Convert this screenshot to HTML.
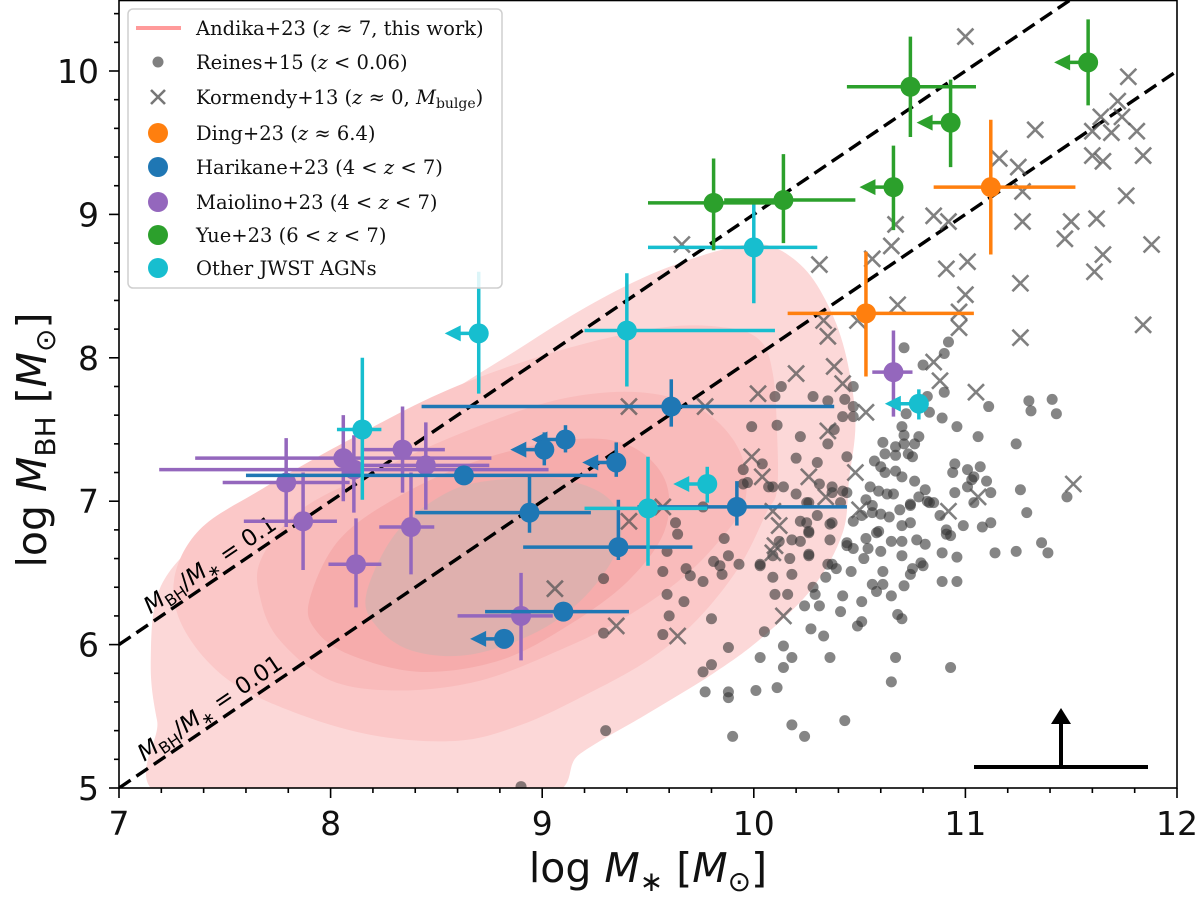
<!DOCTYPE html>
<html><head><meta charset="utf-8"><style>
html,body{margin:0;padding:0;background:#fff;}
svg{display:block;}
text{font-family:"DejaVu Sans","Liberation Sans",sans-serif;}
.lg{font-family:"DejaVu Serif","Liberation Serif",serif;font-size:19.5px;fill:#111;}
</style></head><body>
<svg id="chart" xmlns="http://www.w3.org/2000/svg" width="1200" height="897" viewBox="0 0 1200 897">
<defs><clipPath id="clip"><rect x="119" y="0" width="1058" height="788"/></clipPath></defs>
<rect width="1200" height="897" fill="#fff"/>
<g id="contours" clip-path="url(#clip)"></g>
<g id="lines" clip-path="url(#clip)"></g>
<g id="reines" clip-path="url(#clip)"></g>
<g id="kormendy" clip-path="url(#clip)"></g>
<g id="series" clip-path="url(#clip)"></g>
<g id="axes"></g>
<g id="legend"></g>
</svg>
<script>
// ---- data ----
const xTicks=[7,8,9,10,11,12];
const yTicks=[5,6,7,8,9,10];
const ratioLines=[-1,-2];
const ratioLabels=["0.1","0.01"];
const reinesX=[10.71,10.92,10.90,10.80,10.82,10.90,10.13,10.10,10.28,10.35,10.43,10.47,10.47,10.42,10.47,10.38,10.72,10.83,10.89,10.96,10.70,10.71,10.78,11.06,11.24,11.30,11.31,11.11,9.99,10.11,10.22,10.35,10.61,10.67,10.71,10.76,10.62,10.67,10.73,10.75,10.20,10.30,10.44,10.57,10.60,10.62,10.67,10.70,10.76,10.81,10.95,10.94,11.01,11.07,11.04,11.10,10.95,11.01,11.12,11.04,11.26,11.48,11.29,9.95,10.04,9.97,10.14,10.09,10.31,10.20,10.25,10.37,10.42,10.41,10.53,10.59,10.63,10.66,10.74,10.78,10.83,10.88,10.69,10.56,10.60,10.64,10.51,10.22,10.26,10.36,10.18,10.36,10.70,10.74,10.59,10.65,10.70,10.77,10.81,10.91,10.93,10.99,11.08,11.12,10.89,10.96,11.14,11.24,10.44,10.47,10.54,10.60,10.52,10.70,10.79,10.26,10.17,10.03,10.37,
9.29,9.59,9.64,9.63,9.57,9.59,9.67,9.68,9.70,9.76,9.81,9.84,9.85,9.88,9.86,9.93,10.03,10.09,10.18,10.09,10.10,10.16,10.26,10.37,9.60,9.80,9.57,9.29,9.88,10.05,10.14,10.18,10.03,10.14,9.80,9.76,9.77,9.88,9.88,10.01,10.11,10.18,10.24,9.90,9.30,10.43,10.65,10.67,10.93,10.36,10.27,10.33,10.24,10.28,10.29,10.31,10.34,10.39,10.35,10.42,10.41,10.46,10.44,10.58,10.53,10.75,10.74,10.80,10.61,10.56,10.61,10.58,10.71,10.65,10.51,10.68,10.70,10.51,10.49,10.89,10.96,10.91,10.47,10.56,10.74,10.26,10.30,10.25,10.37,10.44,10.55,10.82,10.85,11.03,10.07,9.95,9.76,10.22,10.26,10.12,8.90,11.41,11.43,11.36,11.39];
const reinesY=[8.07,8.11,8.03,7.95,7.73,7.76,7.80,7.73,7.73,7.70,7.71,7.80,7.66,7.59,7.59,7.50,7.61,7.62,7.58,7.52,7.52,7.46,7.45,7.45,7.40,7.70,7.63,7.66,7.52,7.53,7.45,7.40,7.41,7.38,7.40,7.40,7.33,7.32,7.33,7.31,7.30,7.27,7.31,7.28,7.24,7.20,7.21,7.17,7.14,7.08,7.26,7.20,7.22,7.24,7.17,7.14,7.06,7.10,7.06,6.99,7.08,7.03,6.92,7.22,7.26,7.13,7.10,7.10,7.12,7.05,6.99,7.06,7.07,6.99,7.01,7.07,7.05,7.05,6.97,7.03,6.99,6.90,6.94,6.97,6.91,6.89,6.90,6.86,6.79,6.84,6.73,6.73,6.83,6.85,6.79,6.72,6.72,6.73,6.70,6.80,6.76,6.83,6.82,6.85,6.64,6.61,6.64,6.65,6.71,6.67,6.67,6.65,6.60,6.62,6.57,6.63,6.60,6.56,6.56,
6.46,6.65,6.77,6.85,6.51,6.35,6.30,6.53,6.48,6.44,6.58,6.55,6.49,6.62,6.74,6.56,6.55,6.62,6.49,6.47,6.35,6.35,6.62,6.85,6.20,6.18,6.07,6.08,5.98,6.09,5.99,5.91,5.91,5.84,5.86,5.81,5.67,5.67,5.63,5.68,5.70,5.44,5.36,5.36,5.40,5.47,5.74,5.91,5.84,5.91,6.11,6.06,6.27,6.40,6.35,6.27,6.47,6.53,6.56,6.34,6.23,6.51,6.69,6.78,6.74,6.53,6.49,6.55,6.51,6.42,6.42,6.37,6.41,6.34,6.30,6.21,6.18,6.16,6.13,6.44,6.44,6.77,6.86,6.92,6.98,6.99,6.90,6.85,7.10,7.06,7.10,7.00,6.99,7.15,7.10,7.12,6.96,6.72,6.78,6.72,5.01,7.71,7.61,6.71,6.64];
const kormX=[11.0,11.77,11.72,11.64,11.74,11.60,11.69,11.81,11.33,11.60,11.65,11.84,11.16,11.25,11.27,11.76,10.85,10.92,11.27,11.50,11.62,11.47,11.88,11.65,11.61,10.67,10.65,10.56,10.31,10.91,11.01,11.26,11.00,10.68,10.97,10.97,10.33,10.35,10.49,11.26,11.84,9.66,10.20,10.38,10.42,10.02,10.53,10.35,10.85,10.88,11.05,9.99,10.04,10.26,10.48,10.34,10.09,10.50,10.92,11.06,11.51,10.12,10.10,10.09,9.41,9.57,10.14,9.35,9.64,9.06,9.41,9.77];
const kormY=[10.24,9.96,9.79,9.68,9.68,9.58,9.57,9.58,9.59,9.41,9.37,9.41,9.39,9.33,9.16,9.13,8.99,8.95,8.95,8.95,8.97,8.83,8.79,8.72,8.60,8.93,8.78,8.69,8.65,8.62,8.67,8.52,8.44,8.37,8.32,8.21,8.26,8.15,8.26,8.14,8.23,8.79,7.89,7.94,7.82,7.75,7.62,7.49,7.97,7.84,7.76,7.31,7.17,7.17,7.20,7.03,6.93,6.94,6.93,7.03,7.12,6.83,6.69,6.64,6.86,6.96,6.20,6.13,6.06,6.39,7.66,7.66];
// contour levels (data coords: logM*, logMBH pairs)
const contour1=[[7.28,4.9],[7.18,5.47],[7.15,5.89],[7.19,6.38],[7.38,6.73],[7.67,7.04],[8.04,7.36],[8.42,7.64],[8.80,7.98],[9.18,8.33],[9.51,8.58],[9.84,8.75],[10.05,8.79],[10.22,8.65],[10.34,8.40],[10.43,8.05],[10.48,7.57],[10.45,7.15],[10.42,6.78],[10.28,6.40],[10.04,6.05],[9.81,5.80],[9.50,5.52],[9.18,5.24],[8.90,4.9]];
const contour2=[[9.18,5.63],[8.90,5.44],[8.61,5.33],[8.23,5.36],[7.86,5.51],[7.52,5.75],[7.31,6.10],[7.26,6.45],[7.38,6.80],[7.67,7.08],[8.09,7.43],[8.56,7.78],[9.08,8.05],[9.56,8.21],[9.87,8.21],[10.03,8.12],[10.09,7.89],[10.11,7.48],[10.11,7.08],[10.06,6.92],[9.93,6.54],[9.73,6.17],[9.50,5.89]];
const contour3=[[7.67,6.59],[7.86,6.94],[8.23,7.22],[8.66,7.50],[9.08,7.71],[9.46,7.76],[9.75,7.64],[9.93,7.36],[9.96,7.01],[9.84,6.73],[9.65,6.45],[9.37,6.17],[9.08,5.96],[8.71,5.75],[8.33,5.68],[8.00,5.75],[7.76,6.03],[7.67,6.31]];
const contour4=[[7.90,6.31],[8.04,6.73],[8.33,7.04],[8.71,7.29],[9.13,7.43],[9.41,7.39],[9.58,7.15],[9.58,6.80],[9.41,6.45],[9.13,6.14],[8.80,5.89],[8.42,5.81],[8.09,5.93],[7.93,6.10]];
const contour5=[[8.17,6.36],[8.31,6.78],[8.55,7.06],[8.79,7.15],[9.10,7.15],[9.32,7.01],[9.37,6.73],[9.23,6.38],[8.99,6.10],[8.66,5.93],[8.38,5.96],[8.21,6.14]];
// series: x, y, xlo, xhi, ylo, yhi, upper-limit flag
const yueX=[11.58,10.74,10.93,10.66,10.14,9.81];
const yueY=[10.06,9.89,9.64,9.19,9.10,9.08];
const yueXlo=[null,10.44,null,null,9.86,9.50];
const yueXhi=[null,11.05,null,null,10.48,10.10];
const yueYlo=[9.76,9.54,9.33,8.89,8.80,8.75];
const yueYhi=[10.36,10.24,9.94,9.48,9.42,9.39];
const yueLim=[1,0,1,1,0,0];
const dingX=[11.12,10.53];
const dingY=[9.19,8.31];
const dingXlo=[10.85,10.16];
const dingXhi=[11.52,11.04];
const dingYlo=[8.72,7.87];
const dingYhi=[9.66,8.74];
const dingLim=[0,0];
const hariX=[9.61,9.11,9.01,9.35,8.63,8.94,9.10,8.82,9.36,9.92];
const hariY=[7.66,7.43,7.36,7.27,7.18,6.92,6.23,6.04,6.68,6.96];
const hariXlo=[8.43,null,null,null,7.60,8.40,8.73,null,8.91,9.45];
const hariXhi=[10.38,null,null,null,9.26,9.23,9.41,null,9.71,10.44];
const hariYlo=[7.52,7.34,7.25,7.17,null,6.78,null,null,6.59,6.83];
const hariYhi=[7.85,7.53,7.48,7.41,null,7.17,null,null,7.01,7.14];
const hariLim=[0,1,1,1,0,0,0,1,0,0];
const maioX=[10.66,8.06,8.11,8.34,8.45,7.79,7.87,8.38,8.12,8.90];
const maioY=[7.90,7.30,7.22,7.36,7.25,7.13,6.86,6.82,6.56,6.20];
const maioXlo=[10.56,7.36,7.19,8.15,8.14,7.49,7.59,8.23,7.99,8.60];
const maioXhi=[10.75,8.76,9.03,8.54,8.75,8.09,8.03,8.49,8.24,9.05];
const maioYlo=[7.59,7.00,6.92,7.06,6.94,6.82,6.52,6.49,6.26,5.89];
const maioYhi=[8.19,7.60,7.46,7.66,7.55,7.44,7.20,7.20,6.88,6.50];
const maioLim=[0,0,0,0,0,0,0,0,0,0];
const othX=[10.00,9.40,8.70,8.15,9.78,9.50,10.78];
const othY=[8.77,8.19,8.17,7.50,7.12,6.95,7.68];
const othXlo=[9.50,9.20,null,8.03,null,9.20,null];
const othXhi=[10.30,10.10,null,8.24,null,9.78,null];
const othYlo=[8.38,7.80,7.75,7.01,6.99,6.55,7.57];
const othYhi=[9.11,8.59,8.60,8.00,7.24,7.31,7.78];
const othLim=[0,0,1,0,1,0,1];

// ---- scales ----
const X0=119,X1=1177,Y0=788;
const PX=211.6,PY=143.4;
function sx(v){return X0+(v-7)*PX;}
function sy(v){return Y0-(v-5)*PY;}
const NS="http://www.w3.org/2000/svg";
function mk(tag,attrs,parent){const e=document.createElementNS(NS,tag);for(const k in attrs)e.setAttribute(k,attrs[k]);if(parent)parent.appendChild(e);return e;}

// contours
function smoothClosed(pts){
  const p=pts.map(q=>[sx(q[0]),sy(q[1])]);const n=p.length;let d=`M${p[0][0]},${p[0][1]}`;
  for(let i=0;i<n;i++){const p0=p[(i-1+n)%n],p1=p[i],p2=p[(i+1)%n],p3=p[(i+2)%n];
    const c1=[p1[0]+(p2[0]-p0[0])/6,p1[1]+(p2[1]-p0[1])/6],c2=[p2[0]-(p3[0]-p1[0])/6,p2[1]-(p3[1]-p1[1])/6];
    d+=`C${c1[0]},${c1[1]} ${c2[0]},${c2[1]} ${p2[0]},${p2[1]}`;}
  return d+'Z';}
const cg=document.getElementById('contours');
const contours=[contour1,contour2,contour3,contour4,contour5];
const cfill=['#fcd8d8','#fbc8c8','#f9bbbb','#f6acac','#dfb0ae'];
contours.forEach((c,i)=>{const p=mk('path',{d:smoothClosed(c),fill:cfill[i]},cg);

});

// ratio lines
const lg=document.getElementById('lines');
ratioLines.forEach((o,i)=>{const l=mk('line',{x1:sx(7),y1:sy(7+o),x2:sx(12),y2:sy(12+o),stroke:'#000','stroke-width':3.4,'stroke-dasharray':'14,7'},lg);


const ang=-Math.atan(PY/PX)*180/Math.PI;const lx=sx(7.45),ly=sy(7.45+o)-9;
const t=mk('text',{x:lx,y:ly,'font-size':23,'text-anchor':'middle',transform:`rotate(${ang} ${lx} ${ly})`},lg);


t.innerHTML=`<tspan font-style="italic">M</tspan><tspan font-size="16" dy="5">BH</tspan><tspan dy="-5">/</tspan><tspan font-style="italic">M</tspan><tspan font-size="16" dy="5">∗</tspan><tspan dy="-5"> = ${ratioLabels[i]}</tspan>`;});

// reines
const rg=document.getElementById('reines');
reinesX.forEach((x,i)=>{const c=mk('circle',{cx:sx(x),cy:sy(reinesY[i]),r:5.5,fill:'#333','fill-opacity':0.6},rg);

});
// kormendy
const kg=document.getElementById('kormendy');
kormX.forEach((x,i)=>{const cx=sx(x),cy=sy(kormY[i]),s=8;
const p=mk('path',{d:`M${cx-s},${cy-s}L${cx+s},${cy+s}M${cx-s},${cy+s}L${cx+s},${cy-s}`,stroke:'#555','stroke-opacity':0.75,'stroke-width':2.6},kg);

});

// colored series
const sg=document.getElementById('series');
function drawSeries(name,col,X,Y,XL,XH,YL,YH,L){
  const g=mk('g',{},sg);
  
  
  X.forEach((x,i)=>{const cx=sx(x),cy=sy(Y[i]);
    if(XL[i]!=null)mk('line',{x1:sx(XL[i]),y1:cy,x2:sx(XH[i]),y2:cy,stroke:col,'stroke-width':3.5},g);
    if(YL[i]!=null)mk('line',{x1:cx,y1:sy(YL[i]),x2:cx,y2:sy(YH[i]),stroke:col,'stroke-width':3.5},g);
    if(L[i]){mk('line',{x1:cx,y1:cy,x2:cx-20,y2:cy,stroke:col,'stroke-width':3.5},g);
      mk('path',{d:`M${cx-34},${cy}L${cx-18},${cy-8}L${cx-18},${cy+8}Z`,fill:col},g);}
    const c=mk('circle',{cx:cx,cy:cy,r:10,fill:col},g);
    
    });}
drawSeries('maiolino','#9467bd',maioX,maioY,maioXlo,maioXhi,maioYlo,maioYhi,maioLim);
drawSeries('harikane','#1f77b4',hariX,hariY,hariXlo,hariXhi,hariYlo,hariYhi,hariLim);
drawSeries('other-jwst','#17becf',othX,othY,othXlo,othXhi,othYlo,othYhi,othLim);
drawSeries('ding','#ff7f0e',dingX,dingY,dingXlo,dingXhi,dingYlo,dingYhi,dingLim);
drawSeries('yue','#2ca02c',yueX,yueY,yueXlo,yueXhi,yueYlo,yueYhi,yueLim);

// typical error bar
const eb=mk('g',{},sg);


mk('line',{x1:974,y1:767,x2:1148,y2:767,stroke:'#000','stroke-width':4},eb);
mk('line',{x1:1061,y1:767,x2:1061,y2:722,stroke:'#000','stroke-width':4},eb);
mk('path',{d:'M1061,708L1051,724L1071,724Z',fill:'#000'},eb);

// axes
const ag=document.getElementById('axes');
const fr=mk('rect',{x:X0,y:0.5,width:X1-X0,height:Y0-0.5,fill:'none',stroke:'#000','stroke-width':1.6},ag);


for(let v=7;v<=12.001;v+=0.2){const major=Math.abs(v-Math.round(v))<1e-6;const x=sx(v);
  mk('line',{x1:x,y1:Y0,x2:x,y2:Y0+(major?10:5),stroke:'#000','stroke-width':1.6},ag);}
for(let v=5;v<=10.41;v+=0.2){const major=Math.abs(v-Math.round(v))<1e-6;const y=sy(v);
  mk('line',{x1:X0,y1:y,x2:X0-(major?10:5),y2:y,stroke:'#000','stroke-width':1.6},ag);}
xTicks.forEach(v=>{const t=mk('text',{x:sx(v),y:835,'font-size':33,'text-anchor':'middle',fill:'#111'},ag);t.textContent=v;

});
yTicks.forEach(v=>{const t=mk('text',{x:99,y:sy(v)+12,'font-size':33,'text-anchor':'end',fill:'#111'},ag);t.textContent=v;

});
const xt=mk('text',{x:648,y:882,'font-size':41,'text-anchor':'middle',fill:'#111'},ag);


xt.innerHTML='log<tspan font-style="italic"> M</tspan><tspan font-size="28" dy="9">∗</tspan><tspan dy="-9">  [</tspan><tspan font-style="italic">M</tspan><tspan font-size="28" dy="9">⊙</tspan><tspan dy="-9">]</tspan>';
const yt=mk('text',{x:46,y:440,'font-size':41,'text-anchor':'middle',fill:'#111',transform:'rotate(-90 46 440)'},ag);


yt.innerHTML='log<tspan font-style="italic"> M</tspan><tspan font-size="28" dy="9">BH</tspan><tspan dy="-9"> [</tspan><tspan font-style="italic">M</tspan><tspan font-size="28" dy="9">⊙</tspan><tspan dy="-9">]</tspan>';

// legend
const leg=document.getElementById('legend');
mk('rect',{x:128,y:9,width:374,height:279,rx:5,fill:'#fff','fill-opacity':0.85,stroke:'#cfcfcf','stroke-width':1.5},leg);
const entries=[
 ['line','#ff9a9a','Andika+23 (<tspan font-style="italic">z</tspan> ≈ 7, this work)','legend-andika'],
 ['dot','#808080','Reines+15 (<tspan font-style="italic">z</tspan> &lt; 0.06)','legend-reines'],
 ['cross','#777','Kormendy+13 (<tspan font-style="italic">z</tspan> ≈ 0, <tspan font-style="italic">M</tspan><tspan font-size="14" dy="4">bulge</tspan><tspan dy="-4">)</tspan>','legend-kormendy'],
 ['big','#ff7f0e','Ding+23 (<tspan font-style="italic">z</tspan> ≈ 6.4)','legend-ding'],
 ['big','#1f77b4','Harikane+23 (4 &lt; <tspan font-style="italic">z</tspan> &lt; 7)','legend-harikane'],
 ['big','#9467bd','Maiolino+23 (4 &lt; <tspan font-style="italic">z</tspan> &lt; 7)','legend-maiolino'],
 ['big','#2ca02c','Yue+23 (6 &lt; <tspan font-style="italic">z</tspan> &lt; 7)','legend-yue'],
 ['big','#17becf','Other JWST AGNs','legend-other-jwst']];
const ly0=[28,62,97,133,167,202,235,268];
entries.forEach((e,i)=>{const g=mk('g',{},leg);
 
 
 const y=ly0[i];
 if(e[0]==='line')mk('line',{x1:136,y1:y,x2:181,y2:y,stroke:e[1],'stroke-width':4},g);
 if(e[0]==='dot')mk('circle',{cx:158,cy:y,r:5.5,fill:e[1]},g);
 if(e[0]==='cross')mk('path',{d:`M151,${y-7}L165,${y+7}M151,${y+7}L165,${y-7}`,stroke:e[1],'stroke-width':2.6},g);
 if(e[0]==='big')mk('circle',{cx:158,cy:y,r:10,fill:e[1]},g);
 const t=mk('text',{x:196,y:y+7,class:'lg'},g);t.innerHTML=e[2];});
</script>
</body></html>
